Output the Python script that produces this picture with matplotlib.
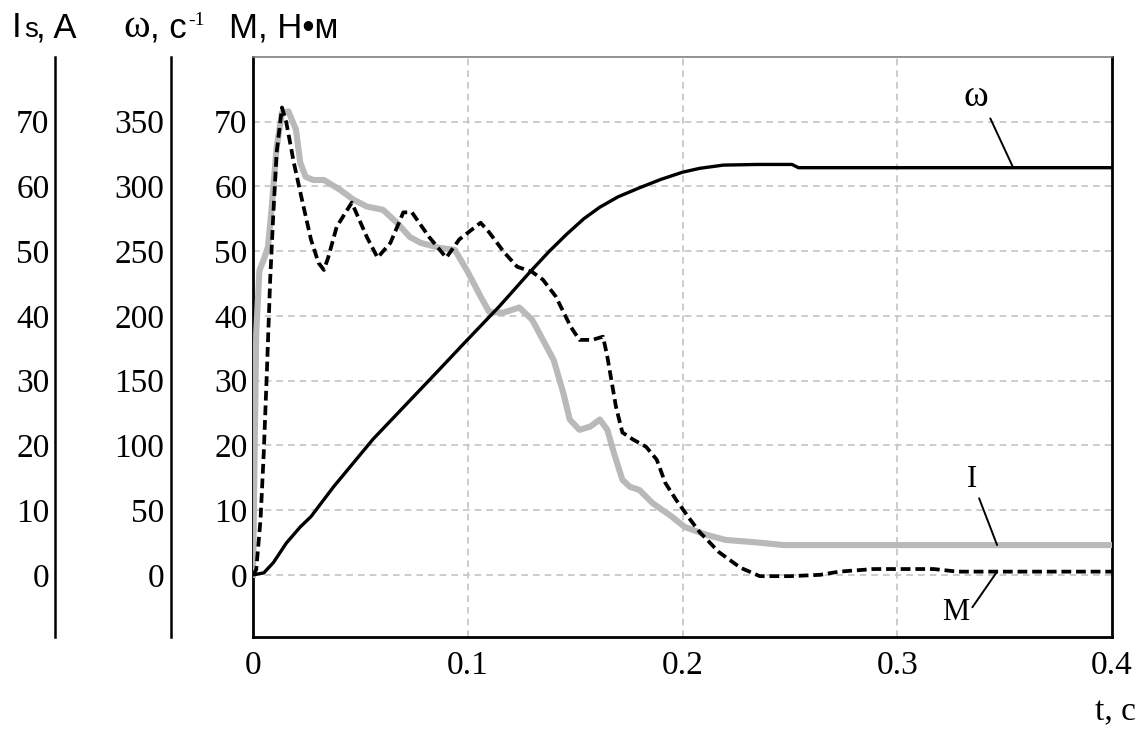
import matplotlib
matplotlib.use("Agg")
import matplotlib.pyplot as plt

# ---- data -------------------------------------------------------------
# rotor speed, rad/s
t_omega = [0, 0.005, 0.0095, 0.0155, 0.022, 0.027, 0.0375, 0.056, 0.0675,
           0.087, 0.0995, 0.1145, 0.129, 0.138, 0.146, 0.154, 0.1615, 0.170,
           0.180, 0.190, 0.200, 0.208, 0.219, 0.235, 0.251, 0.254, 0.4]
omega = [0, 1.5, 9.5, 24.5, 37, 45, 68, 105, 125,
         159, 181, 207, 234, 250, 263, 275, 284, 292,
         299, 305.5, 311, 314, 316.5, 317, 317, 314.5, 314.5]

# stator current, A
t_current = [0, 0.0008, 0.0015, 0.003, 0.005, 0.007, 0.0085, 0.011, 0.0135,
             0.0165, 0.020, 0.022, 0.0245, 0.028, 0.033, 0.0405, 0.0466,
             0.053, 0.0605, 0.067, 0.073, 0.078, 0.087, 0.094, 0.0995, 0.106,
             0.110, 0.1165, 0.124, 0.130, 0.135, 0.140, 0.1445, 0.1475,
             0.152, 0.157, 0.1615, 0.165, 0.168, 0.172, 0.1755, 0.180,
             0.186, 0.195, 0.201, 0.211, 0.220, 0.235, 0.247, 0.4]
current = [0, 20, 37.4, 47, 48.7, 50.7, 56, 66, 71.4,
           71.6, 68.8, 63.7, 61.5, 61, 61, 59.5, 58,
           56.9, 56.4, 54.4, 52.2, 51.3, 50.5, 50.2, 47.1, 43,
           40.6, 40.5, 41.3, 39.4, 36.3, 33.2, 28.1, 24,
           22.4, 22.9, 24, 22.4, 18.9, 14.7, 13.6, 13.1,
           11.1, 9, 7.4, 6.2, 5.4, 5.0, 4.6, 4.6]

# electromagnetic torque, N*m
t_torque = [0, 0.0015, 0.0035, 0.005, 0.0065, 0.008, 0.0095, 0.011, 0.0135,
            0.0155, 0.019, 0.0225, 0.027, 0.0305, 0.033, 0.035, 0.039, 0.046,
            0.053, 0.058, 0.064, 0.070, 0.074, 0.082, 0.090, 0.096, 0.106,
            0.110, 0.117, 0.123, 0.130, 0.135, 0.141, 0.148, 0.152, 0.158,
            0.163, 0.165, 0.169, 0.172, 0.177, 0.183, 0.188, 0.192, 0.197,
            0.203, 0.208, 0.217, 0.227, 0.236, 0.250, 0.264, 0.273, 0.289,
            0.317, 0.328, 0.4]
torque = [0, 0.8, 8.5, 18.8, 31.7, 45.6, 56, 65.2, 72.2,
          69.9, 63.7, 58.4, 51.8, 48.2, 47.1, 49, 53.8, 57.5,
          52.2, 49, 51.3, 56, 56, 52.2, 49, 51.8, 54.4,
          52.9, 49.8, 47.6, 46.8, 45.6, 43, 38.3, 36.3, 36.3,
          36.8, 33.7, 26, 22, 20.9, 19.8, 17.8, 14.2, 11.6,
          8.8, 6.6, 3.5, 1.1, -0.2, -0.2, 0, 0.5, 0.9,
          0.9, 0.5, 0.5]

x_ticks = [0, 0.1, 0.2, 0.3, 0.4]
x_ticklabels = ["0", "0.1", "0.2", "0.3", "0.4"]
main_ticks = [0, 10, 20, 30, 40, 50, 60, 70]
omega_ticks = [0, 50, 100, 150, 200, 250, 300, 350]
OMEGA_SCALE = 5.0           # omega axis = 5 x torque axis

# ---- layout -----------------------------------------------------------
W, H = 1146, 731
fig = plt.figure(figsize=(W / 100, H / 100), dpi=100)
fig.patch.set_facecolor("white")

SERIF = "Liberation Serif"
SANS = "Liberation Sans"
TICK_FS = 24

left_px, right_px, top_px, bot_px = 253, 1112, 57, 637
ylo, yhi = -9.6, 80

def fx(px):
    return px / W

def fy(py):
    return 1 - py / H

ax = fig.add_axes([fx(left_px), fy(bot_px), (right_px - left_px) / W,
                   (bot_px - top_px) / H])
ax.set_xlim(0, 0.4)
ax.set_ylim(ylo, yhi)
ax.set_xticks(x_ticks)
ax.set_xticklabels(x_ticklabels)
ax.set_yticks(main_ticks)
ax.tick_params(length=0, labelsize=TICK_FS)
ax.tick_params(axis="y", pad=4)
ax.tick_params(axis="x", pad=10)
for lab in ax.get_xticklabels() + ax.get_yticklabels():
    lab.set_fontfamily(SERIF)
ax.grid(True, color="#c4c4c4", linestyle=(0, (4, 3)), linewidth=1.2)
for side in ("left", "bottom", "right"):
    ax.spines[side].set_color("black")
    ax.spines[side].set_linewidth(2.0)
ax.spines["top"].set_color("#808080")
ax.spines["top"].set_linewidth(1.2)

# curves
omega_scaled = [w / OMEGA_SCALE for w in omega]
ax.plot(t_current, current, color="#b9b9b9", lw=4.4, solid_joinstyle="round",
        zorder=3)
ax.plot(t_omega, omega_scaled, color="black", lw=2.4, zorder=4)
ax.plot(t_torque, torque, color="black", lw=2.7, linestyle=(0, (2.6, 1.3)),
        zorder=5)

# curve labels with leader lines
lbl_kw = dict(fontsize=22, family=SERIF, ha="center", va="center", zorder=6)
ax.annotate("ω", xy=(0.354, omega_scaled[-1]), xytext=(0.3367, 73.8),
            fontsize=27, family=SERIF, ha="center", va="center", zorder=6,
            arrowprops=dict(arrowstyle="-", lw=1.4, color="black",
                            relpos=(1, 0), shrinkA=1, shrinkB=0))
ax.annotate("I", xy=(0.3465, current[-1]), xytext=(0.335, 14.7),
            arrowprops=dict(arrowstyle="-", lw=1.4, color="black",
                            relpos=(1, 0), shrinkA=1, shrinkB=0), **lbl_kw)
ax.annotate("M", xy=(0.3465, torque[-1]), xytext=(0.327, -5.8),
            arrowprops=dict(arrowstyle="-", lw=1.4, color="black",
                            relpos=(1, 0.5), shrinkA=1, shrinkB=0), **lbl_kw)

# extra left scales: stator current and speed
def side_scale(x_px, lim, ticks, pad):
    a = fig.add_axes([fx(x_px), fy(bot_px), 0.0005, (bot_px - top_px) / H])
    a.set_ylim(*lim)
    a.set_yticks(ticks)
    a.set_xticks([])
    a.patch.set_visible(False)
    for side in ("top", "right", "bottom"):
        a.spines[side].set_visible(False)
    a.spines["left"].set_linewidth(1.8)
    a.spines["left"].set_color("black")
    a.tick_params(length=0, labelsize=TICK_FS, pad=pad)
    for lab in a.get_yticklabels():
        lab.set_fontfamily(SERIF)
    return a

side_scale(55, (ylo, yhi), main_ticks, 4)
side_scale(171, (ylo * OMEGA_SCALE, yhi * OMEGA_SCALE), omega_ticks, 5)

# axis headers
base = fy(37)
fig.text(fx(12), base, "I", fontsize=25, family=SANS, va="baseline")
fig.text(fx(24), base, "s", fontsize=20, family=SANS, va="baseline")
fig.text(fx(36), base, ", A", fontsize=25, family=SANS, va="baseline")
fig.text(fx(123), base, "ω", fontsize=29, family=SERIF, va="baseline")
fig.text(fx(150), base, ", c", fontsize=25, family=SANS, va="baseline")
fig.text(fx(188), fy(25), "-1", fontsize=14, family=SERIF, va="baseline")
fig.text(fx(229), base, "M, Н•м", fontsize=25, family=SANS, va="baseline")

# time axis title
fig.text(fx(1136), fy(720), "t, c", fontsize=24, family=SERIF,
         ha="right", va="baseline")

fig.savefig("out.png", dpi=100, facecolor="white")
